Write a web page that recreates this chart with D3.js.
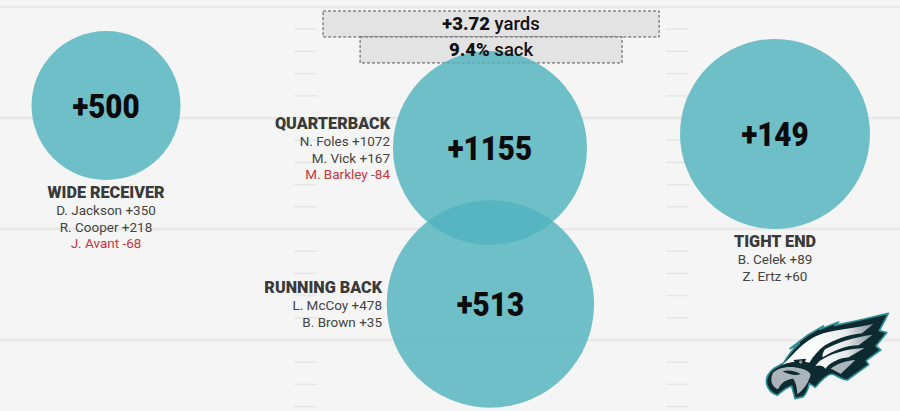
<!DOCTYPE html>
<html>
<head>
<meta charset="utf-8">
<script src="https://cdn.jsdelivr.net/npm/d3@7"></script>
<style>
	html, body { margin:0; padding:0; background:#f5f5f5; overflow:hidden; }
	text { font-family:Roboto, "Noto Sans", sans-serif; }
</style>
</head>
<body>
<div class="chart"></div>
<script>
// positions on the field, in yards
const positions = ["WIDE RECEIVER","QUARTERBACK","RUNNING BACK","TIGHT END"];
const totals = ["+500","+1155","+513","+149"];
const fieldX = [4.775,22.07,22.09,34.91];
const fieldY = [4.44,6.35,13.38,5.72];
const shares = [51.6,87.5,100,83.9];
const players = [
	["D. Jackson +350","R. Cooper +218","J. Avant -68"],
	["N. Foles +1072","M. Vick +167","M. Barkley -84"],
	["L. McCoy +478","B. Brown +35"],
	["B. Celek +89","Z. Ertz +60"]
];
const boxLabels = [["+3.72"," yards"],["9.4%"," sack"]];
const boxWidths = [15.14,11.8];
const boxRows = [0.18,1.35];

const outWidth = 900, outHeight = 411;
const x = d3.scaleLinear().domain([0,40.54]).range([0,outWidth]);
const y = d3.scaleLinear().domain([0,18.2]).range([7,411]);
const r = d3.scaleSqrt().domain([0,100]).range([0,103.7]);

const svg = d3.select(".chart").append("svg")
	.attr("width", outWidth)
	.attr("height", outHeight)
	.style("display","block");

// yard lines + hash marks
const yards = d3.range(0,19);
svg.selectAll(null)
	.data(yards.filter(d=>d%5==0))
	.enter().append("line")
	.attr("x1",0).attr("x2",outWidth)
	.attr("y1",d=>y(d)).attr("y2",d=>y(d))
	.attr("stroke","#e8e8e8").attr("stroke-width",2.5);
[13.25,30].forEach(h=>{
	svg.selectAll(null)
		.data(yards.filter(d=>d%5!=0))
		.enter().append("line")
		.attr("x1",x(h)).attr("x2",x(h)+23)
		.attr("y1",d=>y(d)).attr("y2",d=>y(d))
		.attr("stroke","#e6e6e6").attr("stroke-width",1.5);
});

// boxes at the top
const boxes = svg.selectAll(null).data(boxLabels).enter().append("g");
boxes.append("rect")
	.attr("x",(d,i)=>x(22.12-boxWidths[i]/2))
	.attr("y",(d,i)=>y(boxRows[i]))
	.attr("width",(d,i)=>x(boxWidths[i]))
	.attr("height",y(1.17)-y(0))
	.attr("fill","#e3e3e3")
	.attr("stroke","#555")
	.attr("stroke-dasharray","3,2");

// circles
svg.selectAll(null)
	.data(positions)
	.enter().append("circle")
	.attr("cx",(d,i)=>x(fieldX[i]))
	.attr("cy",(d,i)=>y(fieldY[i]))
	.attr("r",(d,i)=>r(shares[i]))
	.attr("fill","#50b3be")
	.attr("opacity",0.81);

// box text goes over the circle
const boxText = svg.selectAll(null).data(boxLabels).enter().append("text")
	.attr("x",x(22.12))
	.attr("y",(d,i)=>y(boxRows[i])+19.5)
	.attr("text-anchor","middle")
	.attr("font-size",18.5)
	.attr("fill","#111");
boxText.append("tspan").attr("font-weight",900).text(d=>d[0]);
boxText.append("tspan").attr("font-weight",500).text(d=>d[1]);

// totals, squeezed a bit sideways
svg.selectAll(null)
	.data(totals)
	.enter().append("text")
	.attr("transform",(d,i)=>`translate(${x(fieldX[i])},${y(fieldY[i])+12}) scale(0.87,1)`)
	.attr("text-anchor","middle")
	.attr("font-size",34)
	.attr("font-weight",900)
	.attr("fill","#0b0b0b")
	.text(d=>d);

// name blocks
const blockX = [106,390,382,775];
const blockY = [198,129,293,247];
const blockAnchor = ["middle","end","end","middle"];
positions.forEach((p,i)=>{
	svg.append("text")
		.attr("x",blockX[i]).attr("y",blockY[i])
		.attr("text-anchor",blockAnchor[i])
		.attr("font-size",16.2).attr("font-weight",900)
		.attr("fill","#3a3a3a")
		.text(p);
	players[i].forEach((n,j)=>{
		svg.append("text")
			.attr("x",blockX[i]).attr("y",blockY[i]+17+j*16.6)
			.attr("text-anchor",blockAnchor[i])
			.attr("font-size",13.5)
			.attr("fill",n.includes("-") ? "#c8363f" : "#444")
			.text(n);
	});
});

// logo
const defs = svg.append("defs");
const grad = defs.append("linearGradient").attr("id","feather")
	.attr("gradientUnits","userSpaceOnUse")
	.attr("x1",230).attr("y1",0).attr("x2",390).attr("y2",0);
grad.append("stop").attr("offset","0%").attr("stop-color","#fbfcfc");
grad.append("stop").attr("offset","55%").attr("stop-color","#e6eaeb");
grad.append("stop").attr("offset","100%").attr("stop-color","#8f9ea4");

const logo = svg.append("g").attr("transform","translate(740,300) scale(0.3333)");
const outline = "M445,40 L418,92 L440,98 L408,138 L422,150 L378,182 L386,194 L322,240 C305,240 290,225 275,222 C258,224 240,245 226,262 L208,250 C204,268 198,282 190,290 L165,296 C162,282 158,270 155,258 C138,262 126,274 112,286 C95,280 84,268 80,252 C76,232 88,214 104,204 L130,190 C145,165 160,145 178,130 L150,146 L205,104 L250,78 L240,88 L296,66 L285,76 L360,60 Z";
logo.append("path").attr("d",outline).attr("fill","#0c2a30").attr("stroke","#2f8f98").attr("stroke-width",5).attr("stroke-linejoin","round");
// head and top feather
logo.append("path").attr("d","M128,194 C160,168 185,122 250,100 C300,86 350,84 400,72 L366,100 C320,104 285,120 255,136 C238,148 222,166 208,188 C185,182 155,184 128,194 Z").attr("fill","url(#feather)");
// lower feathers
logo.append("path").attr("d","M255,148 C290,128 340,112 398,104 L356,136 C320,136 285,150 248,172 C246,164 250,156 255,148 Z").attr("fill","url(#feather)");
logo.append("path").attr("d","M238,184 C268,162 320,146 374,144 L326,172 C300,174 272,186 256,206 C250,198 240,194 226,198 Z").attr("fill","url(#feather)");
logo.append("path").attr("d","M272,206 C290,192 318,182 346,180 L302,222 C292,216 282,210 272,206 Z").attr("fill","#a9b5ba");
// beak
logo.append("path").attr("d","M98,220 C115,202 148,196 186,206 C200,210 210,216 212,224 C206,246 194,266 172,283 C171,264 168,248 160,236 C140,238 124,246 114,268 C98,262 88,244 98,220 Z").attr("fill","#a9b5ba");
logo.append("path").attr("d","M128,214 C145,208 165,212 182,222 C170,228 150,226 128,214 Z").attr("fill","#0c2a30");
// eye
logo.append("path").attr("d","M160,180 L198,176 C196,190 186,202 174,200 Z").attr("fill","#0c2a30");
logo.append("circle").attr("cx",182).attr("cy",186).attr("r",5).attr("fill","#7f9aa0");
</script>
</body>
</html>
